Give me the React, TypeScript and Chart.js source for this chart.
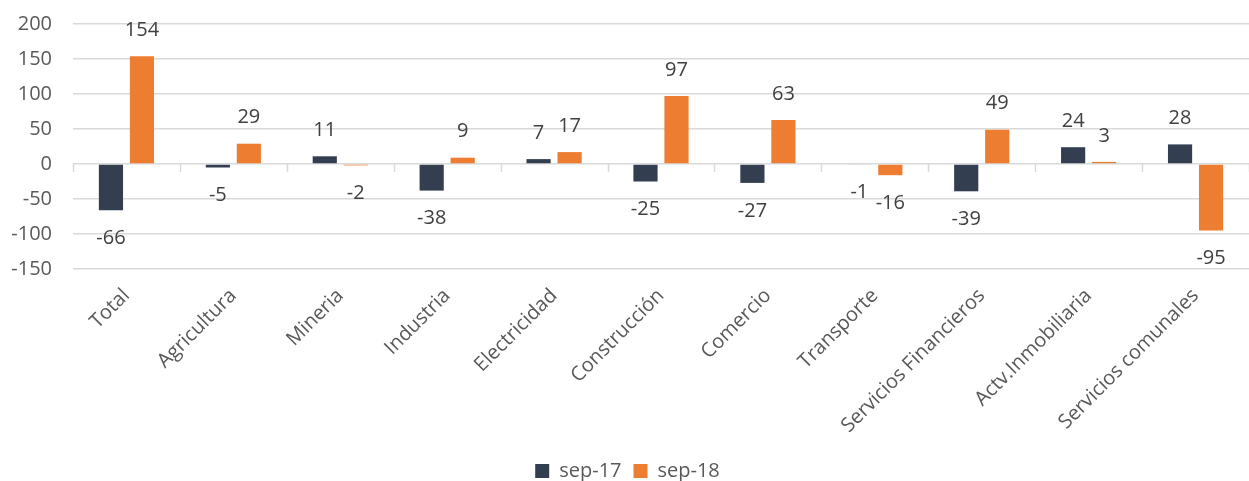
import React, { useEffect, useRef } from "react";
import { Chart, registerables } from "chart.js";

Chart.register(...registerables);

const categories = [
  "Total",
  "Agricultura",
  "Mineria",
  "Industria",
  "Electricidad",
  "Construcción",
  "Comercio",
  "Transporte",
  "Servicios Financieros",
  "Actv.Inmobiliaria",
  "Servicios comunales",
];
const sep17 = [-66, -5, 11, -38, 7, -25, -27, -1, -39, 24, 28];
const sep18 = [154, 29, -2, 9, 17, 97, 63, -16, 49, 3, -95];
const seriesNames = ["sep-17", "sep-18"];
const yMin = -150;
const yMax = 200;
const yStep = 50;

const FONT = "'Open Sans', 'Noto Sans', sans-serif";
const GRID = "#d9d9d9";
const TEXT = "#595959";
const FS = 20;

const labelPlugin = {
  id: "valueLabels",
  afterDatasetsDraw(chart: any) {
    const ctx = chart.ctx;
    ctx.save();
    ctx.font = `${FS}px ${FONT}`;
    ctx.fillStyle = "#404040";
    ctx.textAlign = "center";
    ctx.textBaseline = "middle";
    chart.data.datasets.forEach((ds: any, di: number) => {
      const meta = chart.getDatasetMeta(di);
      meta.data.forEach((el: any, i: number) => {
        const v = ds.data[i];
        const y = v >= 0 ? el.y - 26 : el.y + 28;
        ctx.fillText(String(v), el.x, y);
      });
    });
    ctx.restore();
  },
};

const tickPlugin = {
  id: "zeroTicks",
  beforeDatasetsDraw(chart: any) {
    const ctx = chart.ctx;
    const area = chart.chartArea;
    const y0 = chart.scales.y.getPixelForValue(0);
    const n = categories.length;
    const w = (area.right - area.left) / n;
    ctx.save();
    ctx.strokeStyle = GRID;
    ctx.lineWidth = 1.5;
    for (let i = 0; i <= n; i++) {
      const x = Math.round(area.left + i * w) + 0.5;
      ctx.beginPath();
      ctx.moveTo(x, y0);
      ctx.lineTo(x, y0 + 8);
      ctx.stroke();
    }
    ctx.restore();
  },
};

export default function App() {
  const ref = useRef<HTMLCanvasElement | null>(null);
  useEffect(() => {
    document.body.style.margin = "0";
    const chart = new Chart(ref.current as HTMLCanvasElement, {
      type: "bar",
      data: {
        labels: categories,
        datasets: [
          {
            label: seriesNames[0],
            data: sep17,
            backgroundColor: "#333f50",
            borderWidth: 0,
            categoryPercentage: 0.58,
            barPercentage: 0.78,
          },
          {
            label: seriesNames[1],
            data: sep18,
            backgroundColor: "#ed7d31",
            borderWidth: 0,
            categoryPercentage: 0.58,
            barPercentage: 0.78,
          },
        ],
      },
      options: {
        animation: false,
        responsive: false,
        maintainAspectRatio: false,
        layout: { padding: { left: 6, top: 24, right: 0, bottom: -10 } },
        plugins: {
          legend: {
            position: "bottom",
            labels: {
              boxWidth: 14,
              boxHeight: 14,
              padding: 12,
              color: TEXT,
              font: { family: FONT, size: FS },
            },
          },
          tooltip: { enabled: false },
        },
        scales: {
          x: {
            grid: { display: false },
            border: { display: false },
            afterFit(scale: any) {
              scale.height = 180;
              scale.paddingTop = 0;
            },
            ticks: {
              color: TEXT,
              font: { family: FONT, size: FS },
              minRotation: 45,
              maxRotation: 45,
              autoSkip: false,
              padding: 7,
            },
          },
          y: {
            min: yMin,
            max: yMax,
            afterFit(scale: any) {
              scale.width = 67;
              scale.paddingTop = 0;
            },
            grid: { color: GRID, lineWidth: 1.5, drawTicks: false },
            border: { display: false },
            ticks: {
              stepSize: yStep,
              color: TEXT,
              font: { family: FONT, size: FS },
              padding: 21,
            },
          },
        },
      },
      plugins: [tickPlugin, labelPlugin],
    });
    return () => chart.destroy();
  }, []);
  return (
    <div style={{ width: 1249, height: 481 }}>
      <canvas ref={ref} width={1249} height={481} style={{ display: "block" }} />
    </div>
  );
}
